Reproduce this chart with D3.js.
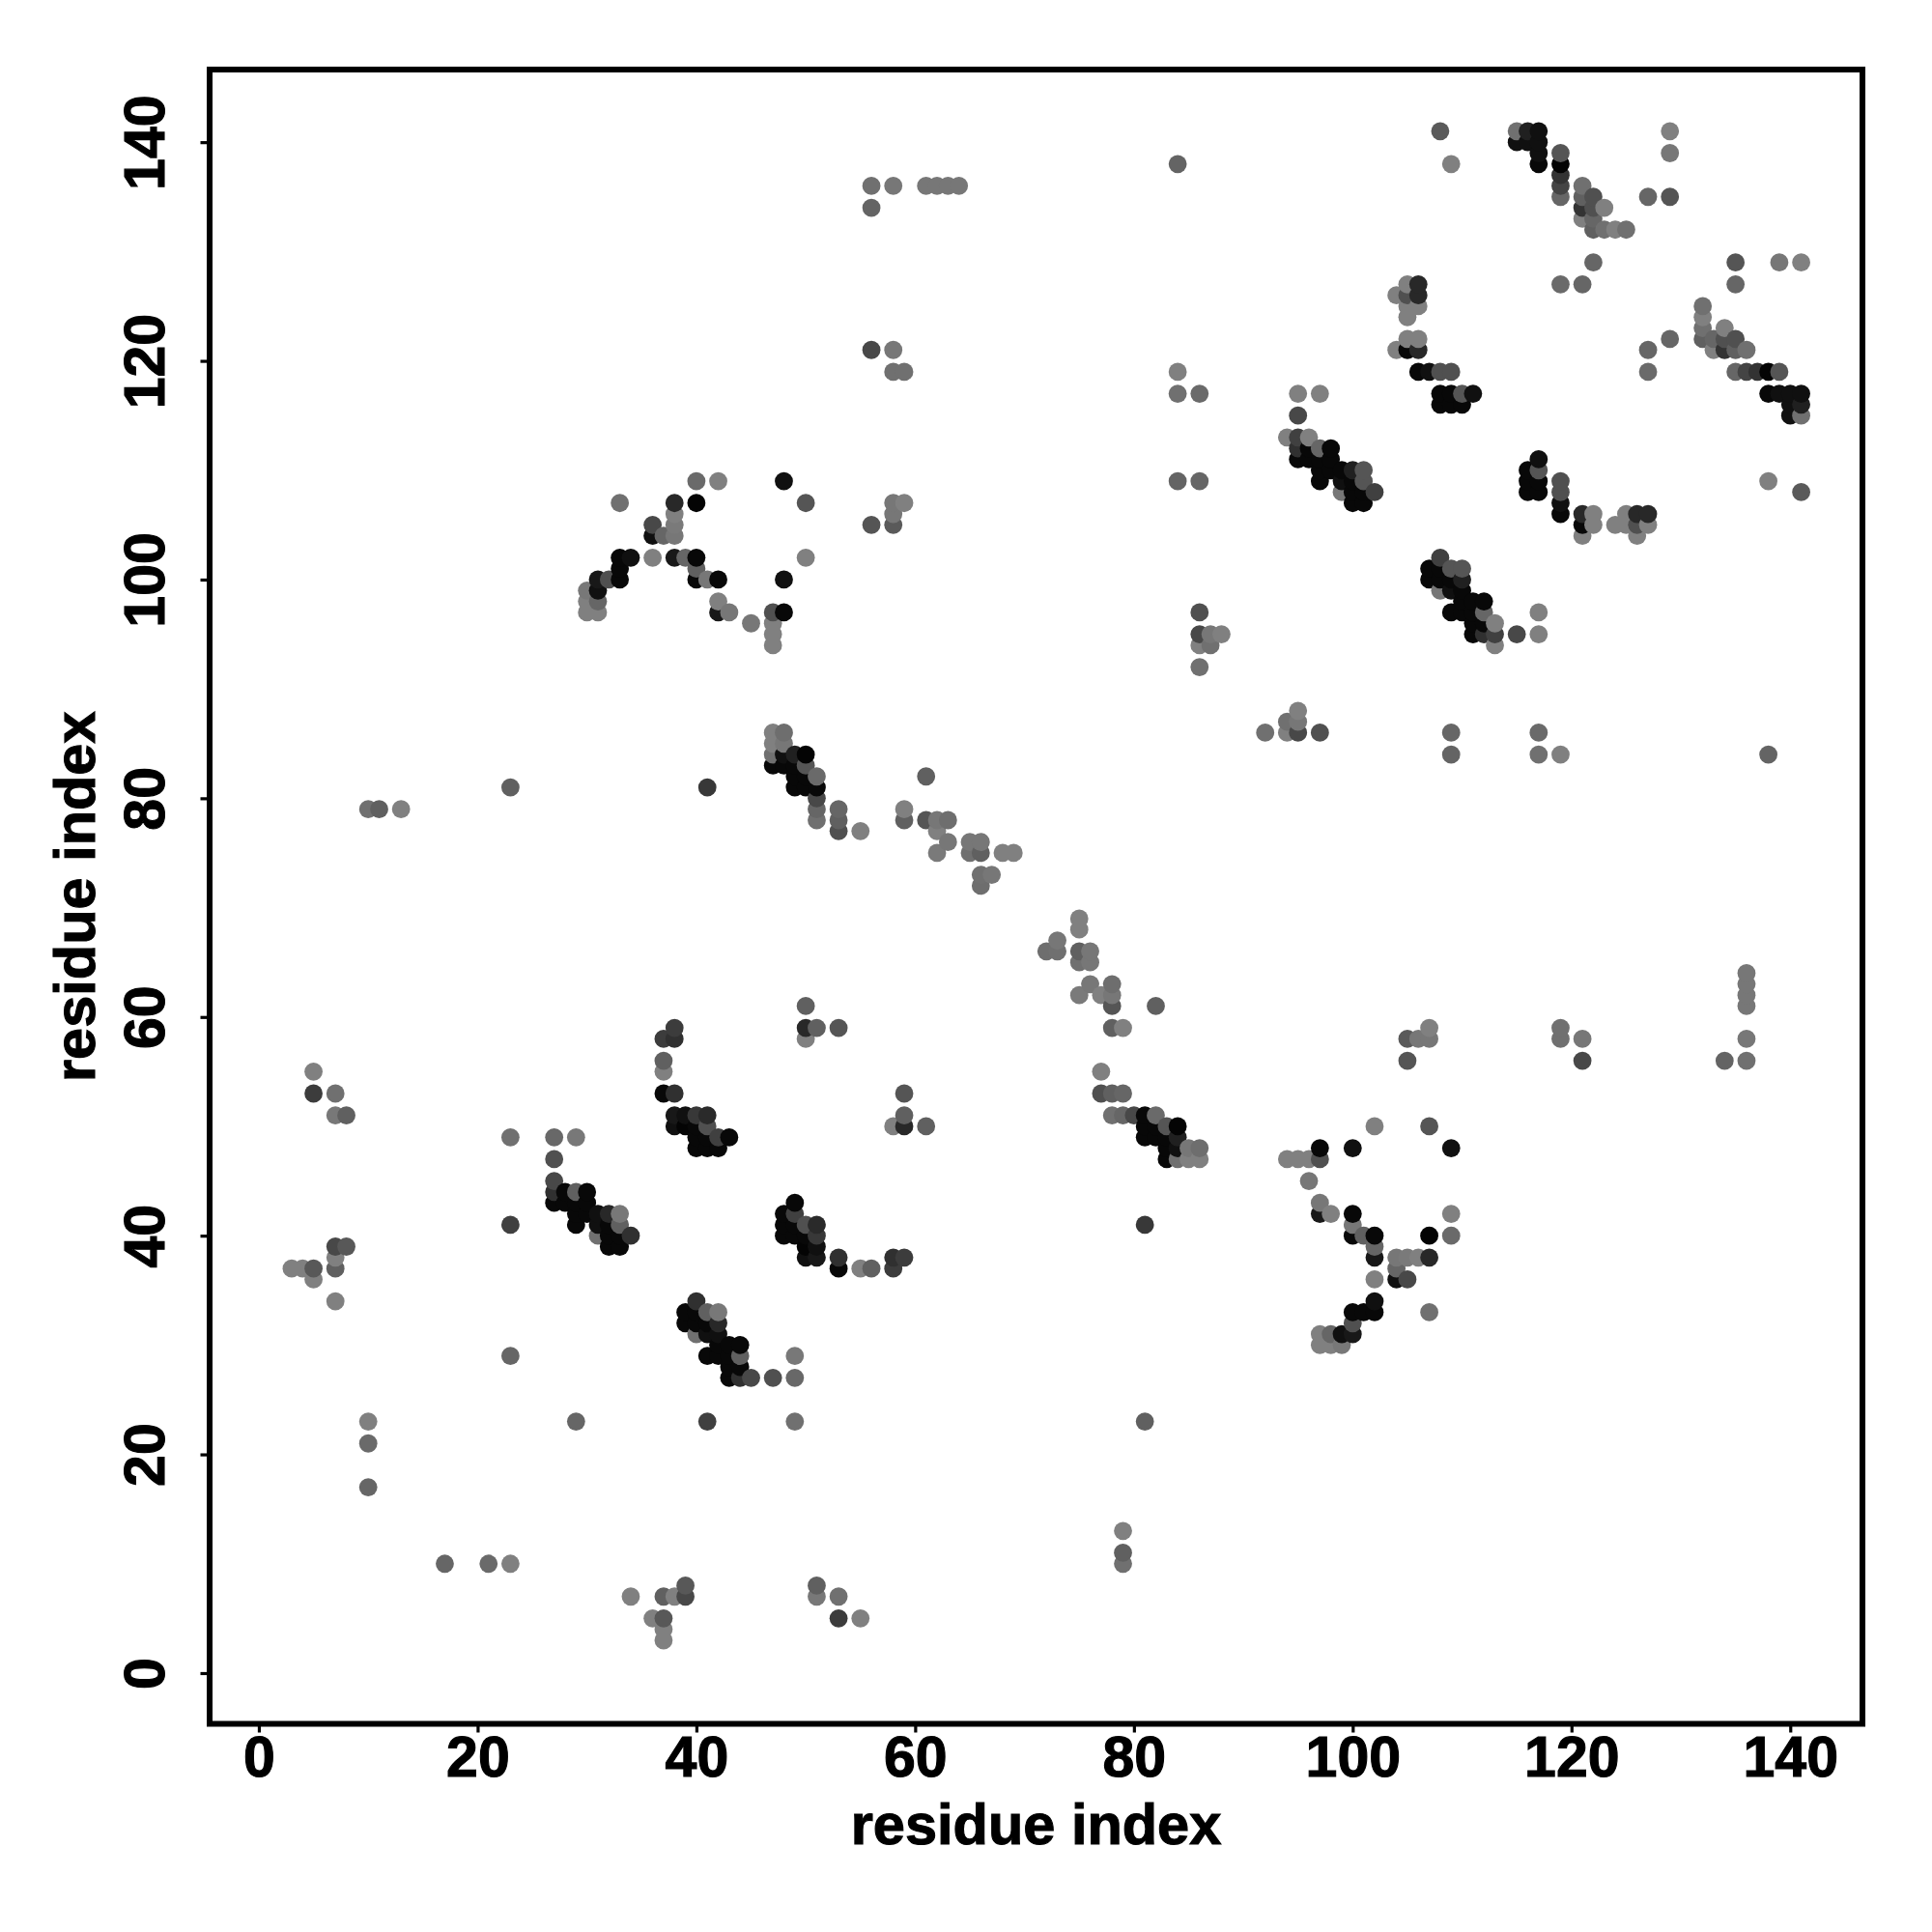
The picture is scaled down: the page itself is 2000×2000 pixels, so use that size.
<!DOCTYPE html>
<html><head><meta charset="utf-8">
<style>html,body{margin:0;padding:0;background:#fff}svg{display:block}
text{font-family:"Liberation Sans",Arial,sans-serif;font-weight:700;fill:#000;stroke:#000;stroke-width:1.1px}</style>
<script src="https://cdnjs.cloudflare.com/ajax/libs/d3/7.8.5/d3.min.js"></script>
</head><body><svg id="c" width="2000" height="2000"></svg>
<script>
const tickValues=[0,20,40,60,80,100,120,140];
const axisTitle="residue index";
const residues=[3,4,5,7,8,10,11,13,23,27,28,29,30,31,32,33,34,36,37,38,39,40,41,42,43,45,47,48,49,50,51,53,55,56,58,59,61,62,63,64,65,66,67,68,69,84,86,87,88,94,95,96,97,98,99,100,101,102,104,105,106,107,108,109,110,111,115,116,117,119,121,122,123,124,125,127,129];
const partners=[
[37],[37],[36,37,53,55],[34,37,38,39,51,53],[39,51],[17,21,23,79],[79],[79],
[29,41,49,81],[43,44,45,47,49],[43,44],[41,42,43,44,49],[42,43,44,97,98,99],
[40,41,42,97,98,99,100],[39,40,41,42,100],[39,40,41,42,100,101,102,107],[40,102],
[102,104,105],[53,55,56,58,104],[50,51,53,58,59,102,104,105,106,107],[50,51,102],
[48,49,50,51,100,101,102,107,109],[48,49,50,51,81,100],[48,49,97,98,100,109],[49,97],
[96],[83,84,85,86,94,95,96,97],[83,84,85,86,97,100,109],[81,82,83,84],
[58,59,61,81,82,83,84,102,107],[59,78,79,80,81,82],[59,77,78,79],[77],
[105,121,134,136],[105,106,107,119,121,136],[78,79,107,119],[78,82,136],[75,77,78,136],
[76,78,136],[136],[75,76],[72,73,75,76],[73],[75],[75],
[109,117,119,138],[92,94,95,97,109,117],[94,95],[95],[113],[111,112,113,115,117],
[111,112,113],[109,110,111,112,117],[110,111,112],[108,109,110],[107,108,109,110],
[107,108,109,110],[108],[121,126],[121,122,124,125,126,127],[119,121,122,125,126,127],
[119],[116,117,119,141],[116,117,119,138],[116,117],[117],[140,141],[140,141],
[138,139,140,141],[127,135,136,137,138,139],[127,133,134,135,136],[129,132,133,134,135],
[132,134],[132],[132],[135],[135,139,141]];
const shades=[
[128],[128],[128,88,60,128],[128,96,128,72,120,112],[88,96],[102,106,128,112],[96],[128],
[102,64,112,96],[8,48,72,80,104],[8,8],[8,8,8,96,120],[8,8,8,128,128,120],
[112,16,16,128,102,16,24],[8,8,8,40,80],[8,8,96,120,8,8,8,112],[48,16],
[128,16,72],[8,128,96,60,102],[16,24,48,48,60,24,119,122,128,40],[4,16,102],
[8,8,8,56,8,96,8,4,106],[8,8,80,42,56,119],[8,64,24,128,8,128],[8,119],
[119],[8,112,128,128,128,128,128,80],[8,16,119,110,8,16,16],[8,8,8,32],
[128,40,96,8,8,85,4,128,85],[96,112,102,72,8,106],[85,80,96,102],[128],
[85,72,100,112],[90,119,119,112,119,119],[96,128,128,112],[85,96,119],[122,128,119,119],
[119,110,119],[119],[112,119],[110,112,96,119],[119],[128],[128],
[100,112,128,100],[112,128,72,80,102,106],[112,119],[128],[128],[8,48,64,72,128],
[8,8,128],[8,8,8,102,128],[8,8,8],[119,16,8],[8,8,8,32],
[8,8,85,85],[64],[128,128],[8,128,128,128,80,128],[8,40,128,128,40,40],
[16],[8,8,80,90],[8,8,80,128],[8,85],[16],[16,112],[16,32],
[8,16,16,16],[106,102,68,51,4,85],[102,128,51,96,112],[102,96,102,80,80],
[112,128],[128],[112],[102],[85,119,128]];

const frame={left:217,right:1928,top:72,bottom:1784.5};
const x=d3.scaleLinear().domain([-4.5,146.6]).range([frame.left,frame.right]);
const y=d3.scaleLinear().domain([-4.64,146.64]).range([frame.bottom,frame.top]);

// The contact map is symmetric: each pair is drawn at (i,j) and (j,i), in plot order.
const points=[];
residues.forEach((r,k)=>partners[k].forEach((p,m)=>{
  points.push({x:r,y:p,g:shades[k][m]});
  points.push({x:p,y:r,g:shades[k][m]});
}));
points.sort((a,b)=>d3.ascending(a.x,b.x)||d3.ascending(a.y,b.y));

const svg=d3.select("#c");
svg.append("g").selectAll("circle").data(points).join("circle")
  .attr("cx",d=>x(d.x)).attr("cy",d=>y(d.y)).attr("r",9.4)
  .attr("fill",d=>d3.rgb(d.g,d.g,d.g));

svg.append("rect").attr("x",frame.left).attr("y",frame.top)
  .attr("width",frame.right-frame.left).attr("height",frame.bottom-frame.top)
  .attr("fill","none").attr("stroke","#000").attr("stroke-width",6);

const ax=svg.append("g").attr("transform",`translate(0,${frame.bottom})`)
  .call(d3.axisBottom(x).tickValues(tickValues).tickSize(9).tickPadding(0));
const ay=svg.append("g").attr("transform",`translate(${frame.left},0)`)
  .call(d3.axisLeft(y).tickValues(tickValues).tickSize(9.5).tickPadding(0));
[ax,ay].forEach(g=>{
  g.select(".domain").remove();
  g.selectAll("line").attr("stroke","#000").attr("stroke-width",3.2);
  g.selectAll("text").attr("font-size",59).style("font-family",'"Liberation Sans",Arial,sans-serif').style("font-weight",700);
});
ax.selectAll("text").attr("y",54.5).attr("dy",0).attr("text-anchor","middle");
ay.selectAll("text").attr("x",0).attr("dy",0).attr("text-anchor","middle")
  .attr("transform",`translate(${170-frame.left},0) rotate(-90)`).attr("y",0);

svg.append("text").attr("x",(frame.left+frame.right)/2).attr("y",1909)
  .attr("text-anchor","middle").attr("font-size",59.5).text(axisTitle);
svg.append("text").attr("transform",`translate(98,${(frame.top+frame.bottom)/2}) rotate(-90)`)
  .attr("text-anchor","middle").attr("font-size",59.5).text(axisTitle);
</script></body></html>
